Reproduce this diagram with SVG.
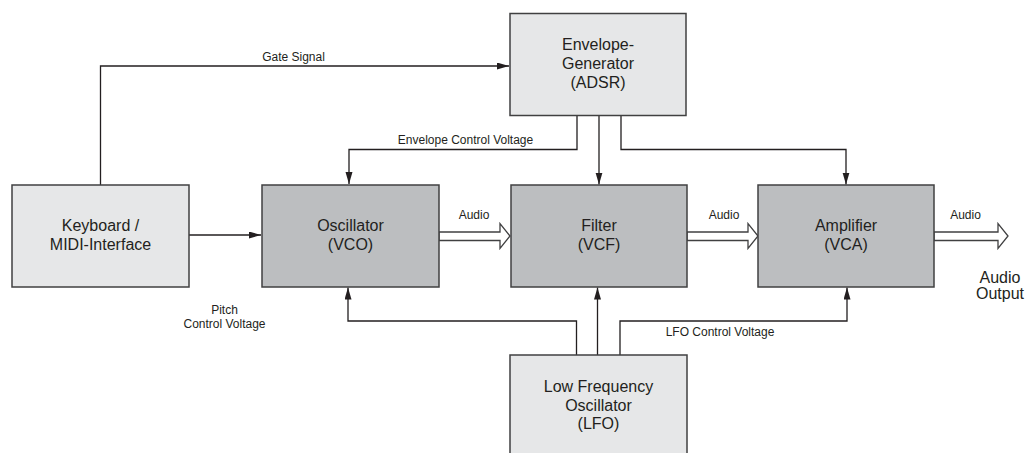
<svg xmlns="http://www.w3.org/2000/svg" width="1026" height="453" viewBox="0 0 1026 453">
<style>
.light{fill:#e6e7e8;stroke:#404041;stroke-width:1.5}
.dark{fill:#bcbec0;stroke:#404041;stroke-width:1.5}
.bt{font-family:"Liberation Sans",Arial,sans-serif;font-size:16px;fill:#231f20;text-anchor:middle}
.lt{font-family:"Liberation Sans",Arial,sans-serif;font-size:12px;fill:#231f20;text-anchor:middle}
.wire{fill:none;stroke:#231f20;stroke-width:1.3}
.hollow{fill:#ffffff;stroke:#404041;stroke-width:1.3;stroke-linejoin:miter}
</style>
<defs>
<marker id="ah" markerUnits="userSpaceOnUse" markerWidth="13" markerHeight="8" refX="12" refY="3.5" orient="auto">
<path d="M0,0 L12,3.5 L0,7 z" fill="#231f20"/>
</marker>
</defs>
<rect width="1026" height="453" fill="#ffffff"/>
<g id="connectors">
<path class="wire" d="M100.5,185 V66 H509" marker-end="url(#ah)"/>
<path class="wire" d="M189,235 H261" marker-end="url(#ah)"/>
<path class="wire" d="M577,115 V149.5 H349 V184" marker-end="url(#ah)"/>
<path class="wire" d="M599,115 V184.5" marker-end="url(#ah)"/>
<path class="wire" d="M621,115 V149.5 H846 V184.5" marker-end="url(#ah)"/>
<path class="wire" d="M576.5,355 V321 H348 V287.5" marker-end="url(#ah)"/>
<path class="wire" d="M597.5,355 V287.5" marker-end="url(#ah)"/>
<path class="wire" d="M620,355 V321 H847 V287.5" marker-end="url(#ah)"/>
<polygon class="hollow" points="439,232 500,232 500,223.5 510,236 500,248.5 500,240.5 439,240.5"/>
<polygon class="hollow" points="687,232 748,232 748,223.5 758,236 748,248.5 748,240.5 687,240.5"/>
<polygon class="hollow" points="934,232 998,232 998,223.5 1008,236 998,248.5 998,240.5 934,240.5"/>
<text class="lt" x="293.5" y="61">Gate Signal</text>
<text class="lt" x="465.5" y="143.5">Envelope Control Voltage</text>
<text class="lt" x="474" y="218.5">Audio</text>
<text class="lt" x="724" y="218.5">Audio</text>
<text class="lt" x="965.5" y="218.5">Audio</text>
<text class="lt" x="224.5" y="313.5">Pitch</text>
<text class="lt" x="224.5" y="328">Control Voltage</text>
<text class="lt" x="720" y="335.5">LFO Control Voltage</text>
<text class="bt" x="1000" y="282.5">Audio</text>
<text class="bt" x="1000" y="298.5">Output</text>
</g>
<g id="keyboard">
<rect class="light" x="12" y="185" width="177" height="102"/>
<text class="bt" x="100.5" y="231">Keyboard /</text>
<text class="bt" x="100.5" y="249.5">MIDI-Interface</text>
</g>
<g id="envelope">
<rect class="light" x="510" y="13.5" width="176" height="102"/>
<text class="bt" x="598" y="49.5">Envelope-</text>
<text class="bt" x="598" y="68.5">Generator</text>
<text class="bt" x="598" y="87.5">(ADSR)</text>
</g>
<g id="oscillator">
<rect class="dark" x="262" y="185" width="177" height="102"/>
<text class="bt" x="350.5" y="231">Oscillator</text>
<text class="bt" x="350.5" y="249.5">(VCO)</text>
</g>
<g id="filter">
<rect class="dark" x="511" y="185" width="176" height="102"/>
<text class="bt" x="599" y="231">Filter</text>
<text class="bt" x="599" y="249.5">(VCF)</text>
</g>
<g id="amplifier">
<rect class="dark" x="758" y="185" width="176" height="102"/>
<text class="bt" x="846" y="231">Amplifier</text>
<text class="bt" x="846" y="249.5">(VCA)</text>
</g>
<g id="lfo">
<rect class="light" x="510" y="355" width="177" height="110"/>
<text class="bt" x="598.5" y="392">Low Frequency</text>
<text class="bt" x="598.5" y="410.5">Oscillator</text>
<text class="bt" x="598.5" y="429">(LFO)</text>
</g>
</svg>
